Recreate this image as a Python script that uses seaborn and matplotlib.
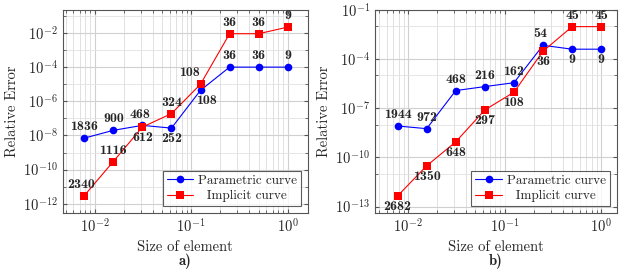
import numpy as np
import pandas as pd
import seaborn as sns
import matplotlib.pyplot as plt
from matplotlib.ticker import LogLocator, NullFormatter

# element sizes (shared by both panels)
tamanhos = [0.0078125, 0.015625, 0.03125, 0.0625, 0.125, 0.25, 0.5, 1.0]

# panel a)
erro_param_a = [7e-9, 2e-8, 3.9e-8, 2.7e-8, 4.4e-6, 1e-4, 1e-4, 1e-4]
erro_impl_a = [3e-12, 3e-10, 3.1e-8, 1.9e-7, 1e-5, 9e-3, 9e-3, 2.2e-2]
rot_param_a = ['1836', '900', '468', '252', '108', '36', '36', '9']
rot_impl_a = ['2340', '1116', '612', '324', '108', '36', '36', '9']

# panel b)
erro_param_b = [8.3e-9, 5.7e-9, 1.2e-6, 2.1e-6, 3.6e-6, 6.9e-4, 4e-4, 4e-4]
erro_impl_b = [4.5e-13, 3.1e-11, 9e-10, 7.9e-8, 9.5e-7, 3e-4, 9.5e-3, 9.5e-3]
rot_param_b = ['1944', '972', '468', '216', '162', '54', '9', '9']
rot_impl_b = ['2682', '1350', '648', '297', '108', '36', '45', '45']

sns.set_style("ticks")
plt.rcParams['font.family'] = 'serif'
plt.rcParams['font.serif'] = ['cmr10']
plt.rcParams['mathtext.fontset'] = 'cm'
plt.rcParams['axes.formatter.use_mathtext'] = True


def rotular(ax, ys, rots, pos, dxs):
    for x, y, t, p, dx in zip(tamanhos, ys, rots, pos, dxs):
        dy = 3.5 if p == 'a' else -3.5
        ax.annotate(t, (x, y), xytext=(dx, dy), textcoords='offset points', ha='center',
                    va='bottom' if p == 'a' else 'top', fontsize=10, fontfamily='cmb10')


def plotar_painel(ax, erro_p, erro_i, rot_p, rot_i, pos_p, pos_i, dx_p, dx_i, yticks, ylim, xlim, letra):
    dados = pd.DataFrame({
        'Tamanho': tamanhos * 2,
        'Erro': erro_p + erro_i,
        'Curva': ['Parametric curve'] * 8 + ['Implicit curve'] * 8,
    })
    sns.lineplot(data=dados, x='Tamanho', y='Erro', hue='Curva', style='Curva',
                 markers={'Parametric curve': 'o', 'Implicit curve': 's'}, dashes=False,
                 palette={'Parametric curve': 'blue', 'Implicit curve': 'red'},
                 markersize=5.5, markeredgewidth=0, linewidth=0.8, ax=ax)
    ax.set_xscale('log')
    ax.set_yscale('log')
    ax.set_xlim(xlim)
    ax.set_ylim(ylim)
    ax.set_yticks(yticks)
    ax.yaxis.set_minor_locator(LogLocator(base=10, subs=[1.0]))
    ax.yaxis.set_minor_formatter(NullFormatter())
    ax.xaxis.set_minor_locator(LogLocator(base=10, subs=np.arange(2, 10)))
    ax.xaxis.set_minor_formatter(NullFormatter())
    ax.grid(True, which='major', color='#d0d0d0', linewidth=0.8)
    ax.grid(True, which='minor', axis='x', color='#dcdcdc', linewidth=0.6)
    ax.grid(True, which='minor', axis='y', color='#e2e2e2', linewidth=0.6)
    ax.set_axisbelow(True)
    ax.tick_params(which='both', direction='in', top=True, right=True, labelsize=10.5, color='#555555')
    ax.tick_params(which='major', length=3)
    ax.tick_params(which='minor', length=2)
    for s in ax.spines.values():
        s.set_color('#555555')
        s.set_linewidth(0.8)
    ax.set_xlabel('Size of element', fontsize=10.5, labelpad=3)
    ax.set_ylabel('Relative Error', fontsize=10.5, labelpad=3)

    rotular(ax, erro_p, rot_p, pos_p, dx_p)
    rotular(ax, erro_i, rot_i, pos_i, dx_i)

    handles, labels = ax.get_legend_handles_labels()
    labels = ['Parametric curve', '  Implicit curve']
    leg = ax.legend(handles, labels, loc='lower right', fontsize=9.5, frameon=True, fancybox=False,
                    edgecolor='#333333', handlelength=2.0, borderpad=0.3, labelspacing=0.25,
                    handletextpad=0.4, borderaxespad=0.5)
    leg.get_frame().set_linewidth(0.8)
    ax.text(0.5, -0.2, letra, transform=ax.transAxes, ha='center', va='top',
            fontsize=10.5, fontfamily='cmb10')


fig = plt.figure(figsize=(6.21, 2.74), dpi=100)
ax1 = fig.add_axes([0.101, 0.223, 0.395, 0.741])
ax2 = fig.add_axes([0.604, 0.223, 0.389, 0.741])

plotar_painel(ax1, erro_param_a, erro_impl_a, rot_param_a, rot_impl_a,
              ['a', 'a', 'a', 'b', 'b', 'a', 'a', 'a'],
              ['a', 'a', 'b', 'a', 'a', 'a', 'a', 'a'],
              [0, 0, -2, 0, 4, 0, 0, 0],
              [-2, 0, 0, 0, -8, 0, 0, 0],
              [1e-12, 1e-10, 1e-8, 1e-6, 1e-4, 1e-2],
              (10 ** -12.53, 10 ** -0.65), (10 ** -2.33, 10 ** 0.21), 'a)')
plotar_painel(ax2, erro_param_b, erro_impl_b, rot_param_b, rot_impl_b,
              ['a', 'a', 'a', 'a', 'a', 'a', 'b', 'b'],
              ['b', 'b', 'b', 'b', 'b', 'b', 'a', 'a'],
              [0, 0, 0, 0, 0, -2, 0, 0],
              [0, 0, 0, 0, 0, 0, 0, 0],
              [1e-13, 1e-10, 1e-7, 1e-4, 1e-1],
              (10 ** -13.38, 10 ** -1), (10 ** -2.34, 10 ** 0.16), 'b)')

fig.savefig('out.png', dpi=100)
